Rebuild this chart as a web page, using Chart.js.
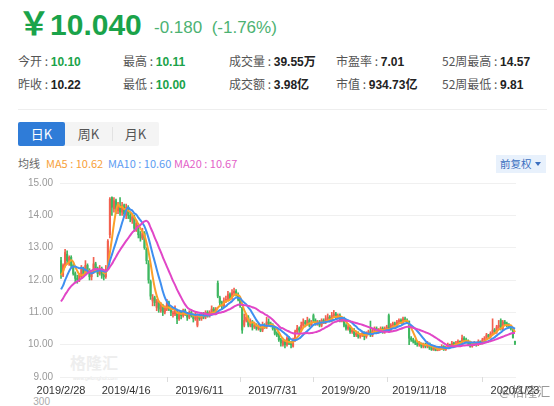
<!DOCTYPE html>
<html lang="zh-CN">
<head>
<meta charset="utf-8">
<title>日K</title>
<script src="https://cdn.jsdelivr.net/npm/chart.js@4.4.1/dist/chart.umd.min.js"></script>
<style>
  html, body { margin: 0; padding: 0; background: #fff; }
  body { width: 554px; height: 406px; position: relative; overflow: hidden;
         font-family: "Noto Sans CJK SC", "Noto Sans", sans-serif; }
  .abs { position: absolute; white-space: nowrap; }
  .price { left: 18px; top: 5px; font-size: 32px; line-height: 32px; font-weight: 700; color: #1aa34a; }
  .price .num { font-family: "Liberation Sans", sans-serif; font-size: 30px; }
  .change { left: 154px; top: 18px; font-size: 17px; line-height: 20px; color: #4cb272; font-family: "Liberation Sans", "Noto Sans CJK SC", sans-serif; }
  .row { font-size: 12px; line-height: 16px; color: #555; }
  .row b { font-weight: 700; color: #222; font-family: "Liberation Sans", "Noto Sans CJK SC", sans-serif; }
  .row b.g { color: #1aa34a; }
  .rule { left: 18px; top: 109px; width: 529px; height: 1px; background: #eee; }
  .tabs { left: 18px; top: 122px; width: 141px; height: 24px; background: #f4f4f4; border-radius: 2px; }
  .tab { top: 122px; width: 47px; height: 24px; line-height: 24px; text-align: center; font-size: 13px; color: #555; }
  .tab.on { background: #2f7cd8; color: #fff; border-radius: 2px; }
  .sep { left: 112px; top: 127px; width: 1px; height: 14px; background: #e2e2e2; }
  .legend { top: 156px; font-size: 11px; line-height: 15px; }
  .fq { left: 496px; top: 155px; width: 50px; height: 18px; background: #e8f1fc; }
  .fq span { position: absolute; left: 4px; top: 0; font-size: 10.5px; line-height: 18px; color: #3b6fc0; }
  .fq i { position: absolute; left: 39px; top: 7px; width: 0; height: 0;
          border-left: 3.5px solid transparent; border-right: 3.5px solid transparent; border-top: 4px solid #3b6fc0; }
  .mark { left: 70px; top: 352px; font-size: 16px; line-height: 20px; font-weight: 700; color: #eeeeee; }
  .site { left: 73px; top: 375px; font-size: 5px; line-height: 6px; color: #e4e4e4; font-family: "Liberation Sans", sans-serif; }
  .volLine { left: 60px; top: 395px; width: 456px; height: 1px; background: #efefef; }
  .volTick { right: 504px; top: 396px; font-size: 10px; line-height: 12px; color: #aaa; font-family: "Liberation Sans", sans-serif; }
  .stamp { left: 499px; top: 383px; font-size: 13px; line-height: 16px; color: rgba(70,70,70,0.55); }
  #wrap { position: absolute; left: 0; top: 170px; width: 554px; height: 236px; }
</style>
</head>
<body>
  <div class="abs price">￥<span class="num">10.040</span></div>
  <div class="abs change">-0.180&nbsp;&nbsp;(-1.76%)</div>

  <div class="abs row" style="left:18px;top:53px">今开 : <b class="g">10.10</b></div>
  <div class="abs row" style="left:123px;top:53px">最高 : <b class="g">10.11</b></div>
  <div class="abs row" style="left:229px;top:53px">成交量 : <b>39.55万</b></div>
  <div class="abs row" style="left:336px;top:53px">市盈率 : <b>7.01</b></div>
  <div class="abs row" style="left:442px;top:53px">52周最高 : <b>14.57</b></div>
  <div class="abs row" style="left:18px;top:76px">昨收 : <b>10.22</b></div>
  <div class="abs row" style="left:123px;top:76px">最低 : <b class="g">10.00</b></div>
  <div class="abs row" style="left:229px;top:76px">成交额 : <b>3.98亿</b></div>
  <div class="abs row" style="left:336px;top:76px">市值 : <b>934.73亿</b></div>
  <div class="abs row" style="left:442px;top:76px">52周最低 : <b>9.81</b></div>
  <div class="abs rule"></div>

  <div class="abs tabs"></div>
  <div class="abs tab on" style="left:18px">日K</div>
  <div class="abs tab" style="left:65px">周K</div>
  <div class="abs sep"></div>
  <div class="abs tab" style="left:112px">月K</div>

  <div class="abs legend" style="left:18px;color:#666">均线</div>
  <div class="abs legend" style="left:46px;color:#f7a13a">MA5 : 10.62</div>
  <div class="abs legend" style="left:108px;color:#5d9cf2">MA10 : 10.60</div>
  <div class="abs legend" style="left:174px;color:#e35fc8">MA20 : 10.67</div>
  <div class="abs fq"><span>前复权</span><i></i></div>

  <div class="abs mark">格隆汇</div>
  <div class="abs site">www.gelonghui.com</div>
  <div class="abs volLine"></div>
  <div class="abs volTick">300</div>

  <div id="wrap"><canvas id="kline" width="554" height="236"></canvas></div>
  <div class="abs stamp">@格隆汇</div>

<script>
// Closes of the trading days just before the first drawn candle (seed the moving averages)
const priorCloses = [10.55, 10.6, 10.7, 10.8, 10.9, 11.0, 11.1, 11.2, 11.3, 11.45,
                     11.3, 11.15, 11.2, 11.3, 11.4, 11.9, 12.0, 12.25, 12.4];

// Daily candles, one entry per trading day
const opens = [
  12.6, 12.15, 12.45, 12.8, 12.55, 12.7, 12.45, 12.2, 12.05, 12.0,
  12.1, 12.35, 12.2, 12.45, 12.3, 12.1, 12.25, 12.5, 12.3, 12.2,
  12.35, 12.15, 12.1, 12.4, 13.4, 14.55, 14.2, 14.45, 14.15, 14.3,
  14.1, 14.3, 14.0, 14.25, 14.0, 13.85, 13.95, 13.6, 13.7, 13.4,
  13.3, 13.45, 12.95, 12.5, 11.95, 11.35, 11.45, 11.15, 11.3, 11.05,
  11.2, 11.0, 11.1, 11.3, 11.1, 10.95, 10.95, 11.05, 10.8, 11.0,
  10.9, 11.05, 10.95, 10.85, 11.0, 10.9, 10.8, 10.6, 10.9, 10.8,
  10.95, 10.85, 11.0, 10.9, 11.0, 11.1, 11.0, 11.9, 11.45, 11.3,
  11.2, 11.35, 11.4, 11.55, 11.45, 11.6, 11.65, 11.55, 11.4, 11.15,
  10.6, 10.75, 10.85, 10.6, 10.7, 10.55, 10.6, 10.5, 10.55, 10.45,
  10.6, 10.55, 10.7, 10.65, 10.6, 10.5, 10.35, 10.3, 10.15, 10.0,
  10.1, 10.0, 10.2, 10.05, 9.95, 10.15, 10.4, 10.5, 10.45, 10.6,
  10.7, 10.65, 10.75, 10.6, 10.9, 10.75, 10.65, 10.7, 10.6, 10.75,
  10.7, 10.8, 10.85, 10.75, 10.9, 10.95, 10.85, 10.9, 10.75, 10.8,
  10.6, 10.5, 10.55, 10.4, 10.45, 10.3, 10.35, 10.25, 10.3, 10.35,
  10.25, 10.35, 10.4, 10.3, 10.45, 10.5, 10.4, 10.45, 10.5, 10.4,
  10.5, 10.9, 10.45, 10.6, 10.65, 10.6, 10.7, 10.75, 10.7, 10.8,
  10.75, 10.73, 10.2, 10.15, 10.1, 10.05, 10.0, 10.05, 9.95, 10.0,
  9.95, 10.05, 9.9, 9.85, 9.9, 9.82, 9.85, 9.9, 9.95, 9.85,
  9.9, 10.0, 9.95, 10.05, 10.0, 10.05, 10.1, 10.05, 10.2, 10.15,
  10.1, 10.05, 9.95, 10.0, 10.05, 10.0, 10.1, 10.05, 10.15, 10.2,
  10.3, 10.25, 10.35, 10.45, 10.4, 10.55, 10.75, 10.5, 10.7, 10.65,
  10.6, 10.55, 10.5, 10.10
];
const highs = [
  12.7, 12.5, 12.95, 12.9, 12.75, 12.75, 12.5, 12.25, 12.15, 12.2,
  12.45, 12.4, 12.6, 12.5, 12.35, 12.3, 12.7, 12.55, 12.4, 12.45,
  12.4, 12.25, 12.45, 13.25, 14.55, 14.57, 14.55, 14.5, 14.4, 14.55,
  14.4, 14.35, 14.35, 14.3, 14.1, 14.05, 14.0, 13.85, 13.75, 13.5,
  13.6, 13.5, 13.0, 12.6, 12.0, 11.55, 11.5, 11.4, 11.35, 11.3,
  11.25, 11.2, 11.4, 11.35, 11.15, 11.05, 11.2, 11.1, 11.05, 11.05,
  11.1, 11.1, 11.0, 11.05, 11.05, 10.95, 11.0, 10.95, 10.95, 11.0,
  11.0, 11.05, 11.05, 11.05, 11.2, 11.15, 11.15, 11.97, 11.5, 11.35,
  11.45, 11.5, 11.65, 11.6, 11.7, 11.75, 11.7, 11.6, 11.45, 11.15,
  10.95, 10.95, 10.9, 10.8, 10.75, 10.7, 10.65, 10.65, 10.6, 10.7,
  10.65, 10.85, 10.8, 10.7, 10.65, 10.55, 10.4, 10.35, 10.2, 10.15,
  10.15, 10.25, 10.25, 10.1, 10.2, 10.45, 10.6, 10.55, 10.7, 10.8,
  10.75, 10.85, 10.8, 10.75, 10.95, 10.8, 10.75, 10.75, 10.8, 10.8,
  10.9, 10.95, 10.9, 11.0, 11.06, 11.0, 10.95, 10.95, 10.85, 10.85,
  10.65, 10.6, 10.6, 10.5, 10.5, 10.4, 10.4, 10.35, 10.4, 10.4,
  10.4, 10.45, 10.73, 10.5, 10.55, 10.55, 10.5, 10.55, 10.55, 10.55,
  10.6, 10.95, 10.65, 10.7, 10.7, 10.75, 10.8, 10.8, 10.85, 10.85,
  10.8, 10.73, 10.25, 10.2, 10.15, 10.1, 10.1, 10.05, 10.05, 10.05,
  10.1, 10.05, 9.95, 9.95, 9.92, 9.9, 9.95, 10.0, 9.97, 9.95,
  10.05, 10.02, 10.1, 10.08, 10.1, 10.15, 10.12, 10.3, 10.25, 10.2,
  10.15, 10.08, 10.05, 10.1, 10.08, 10.15, 10.12, 10.2, 10.25, 10.35,
  10.32, 10.4, 10.8, 10.5, 10.6, 10.75, 10.8, 10.75, 10.75, 10.7,
  10.65, 10.6, 10.52, 10.11
];
const lows = [
  12.05, 12.1, 12.4, 12.5, 12.45, 12.4, 12.15, 11.95, 11.9, 11.95,
  12.05, 12.1, 12.15, 12.2, 12.0, 12.0, 12.2, 12.25, 12.1, 12.15,
  12.05, 12.0, 12.05, 12.35, 13.3, 14.0, 14.1, 14.05, 14.05, 14.0,
  14.0, 13.95, 13.9, 13.9, 13.8, 13.75, 13.5, 13.5, 13.3, 13.2,
  13.25, 12.95, 12.5, 11.9, 11.4, 11.2, 11.2, 11.05, 11.0, 11.0,
  10.9, 10.95, 11.05, 11.05, 10.9, 10.85, 10.9, 10.65, 10.75, 10.8,
  10.85, 10.9, 10.75, 10.8, 10.85, 10.7, 10.75, 10.55, 10.75, 10.75,
  10.8, 10.8, 10.85, 10.85, 10.95, 10.95, 10.95, 11.45, 11.2, 11.1,
  11.15, 11.3, 11.35, 11.4, 11.4, 11.55, 11.5, 11.35, 11.15, 10.35,
  10.55, 10.7, 10.55, 10.55, 10.45, 10.5, 10.45, 10.45, 10.4, 10.4,
  10.5, 10.5, 10.6, 10.55, 10.45, 10.3, 10.25, 10.1, 9.95, 9.95,
  9.9, 9.95, 10.0, 9.9, 9.92, 10.1, 10.35, 10.35, 10.4, 10.55,
  10.55, 10.6, 10.55, 10.55, 10.7, 10.6, 10.6, 10.55, 10.55, 10.65,
  10.65, 10.75, 10.7, 10.7, 10.85, 10.8, 10.8, 10.7, 10.7, 10.55,
  10.45, 10.45, 10.35, 10.35, 10.25, 10.25, 10.2, 10.2, 10.25, 10.15,
  10.2, 10.3, 10.25, 10.25, 10.4, 10.35, 10.35, 10.4, 10.35, 10.35,
  10.45, 10.4, 10.4, 10.55, 10.55, 10.55, 10.65, 10.65, 10.65, 10.7,
  10.65, 10.0, 10.1, 10.05, 10.0, 9.95, 9.95, 9.9, 9.9, 9.9,
  9.9, 9.85, 9.82, 9.82, 9.81, 9.81, 9.82, 9.85, 9.82, 9.82,
  9.88, 9.9, 9.92, 9.95, 9.97, 10.0, 10.0, 10.02, 10.1, 10.05,
  10.0, 9.92, 9.92, 9.97, 9.95, 9.97, 10.0, 10.02, 10.1, 10.15,
  10.2, 10.2, 10.3, 10.35, 10.35, 10.5, 10.45, 10.45, 10.6, 10.55,
  10.5, 10.45, 10.2, 10.00
];
const closes = [
  12.2, 12.45, 12.85, 12.6, 12.7, 12.45, 12.2, 12.05, 12.0, 12.15,
  12.35, 12.2, 12.45, 12.3, 12.1, 12.25, 12.5, 12.3, 12.2, 12.35,
  12.15, 12.1, 12.3, 13.2, 14.5, 14.25, 14.45, 14.2, 14.3, 14.1,
  14.3, 14.05, 14.25, 14.0, 13.9, 13.95, 13.6, 13.75, 13.4, 13.3,
  13.45, 13.0, 12.6, 12.0, 11.5, 11.45, 11.3, 11.35, 11.1, 11.2,
  11.0, 11.15, 11.3, 11.1, 11.0, 10.95, 11.1, 10.8, 11.0, 10.9,
  11.05, 10.95, 10.85, 11.0, 10.9, 10.8, 10.95, 10.9, 10.8, 10.95,
  10.85, 11.0, 10.9, 11.0, 11.1, 11.0, 11.1, 11.5, 11.3, 11.2,
  11.35, 11.4, 11.55, 11.45, 11.6, 11.65, 11.55, 11.4, 11.2, 10.45,
  10.75, 10.85, 10.6, 10.7, 10.55, 10.6, 10.5, 10.55, 10.45, 10.6,
  10.55, 10.7, 10.65, 10.6, 10.5, 10.35, 10.3, 10.15, 10.05, 10.1,
  10.0, 10.2, 10.05, 10.0, 10.15, 10.4, 10.5, 10.45, 10.6, 10.7,
  10.65, 10.75, 10.6, 10.7, 10.75, 10.65, 10.7, 10.6, 10.75, 10.7,
  10.8, 10.85, 10.75, 10.9, 10.95, 10.85, 10.9, 10.75, 10.8, 10.6,
  10.5, 10.55, 10.4, 10.45, 10.3, 10.35, 10.25, 10.3, 10.35, 10.25,
  10.35, 10.4, 10.3, 10.45, 10.5, 10.4, 10.45, 10.5, 10.4, 10.5,
  10.55, 10.45, 10.6, 10.65, 10.6, 10.7, 10.75, 10.7, 10.8, 10.75,
  10.7, 10.2, 10.15, 10.1, 10.05, 10.0, 10.05, 9.95, 10.0, 9.95,
  10.05, 9.9, 9.85, 9.9, 9.82, 9.85, 9.9, 9.95, 9.85, 9.9,
  10.0, 9.95, 10.05, 10.0, 10.05, 10.1, 10.05, 10.2, 10.15, 10.1,
  10.05, 9.95, 10.0, 10.05, 10.0, 10.1, 10.05, 10.15, 10.2, 10.3,
  10.25, 10.35, 10.45, 10.4, 10.55, 10.6, 10.5, 10.7, 10.65, 10.6,
  10.55, 10.5, 10.22, 10.04
];

// Date labels shown under the axis, at their trading-day positions
const tickIndex = [0, 32, 68, 104, 140, 176, 223];
const tickText = ['2019/2/28', '2019/4/16', '2019/6/11', '2019/7/31', '2019/9/20', '2019/11/18', '2020/1/23'];
// Short marks hanging under the axis line
const axisMarkIndex = [52, 88, 124, 160, 207];
// Price gridlines
const priceTicks = [9, 10, 11, 12, 13, 14, 15];

const UP = '#f3604f';
const DOWN = '#3eb760';

const days = closes.map((_, i) => i);

function movingAverage(n) {
  const all = priorCloses.concat(closes);
  const off = priorCloses.length;
  return closes.map((_, i) => {
    let s = 0;
    for (let k = 0; k < n; k++) s += all[off + i - k];
    return s / n;
  });
}

const candleColor = closes.map((c, i) => (c >= opens[i] ? UP : DOWN));
const tickLabel = {};
tickIndex.forEach((idx, k) => { tickLabel[idx] = tickText[k]; });

const axisMarks = {
  id: 'axisMarks',
  afterDraw(chart) {
    const { ctx, chartArea, scales } = chart;
    ctx.save();
    ctx.strokeStyle = '#dcdcdc';
    ctx.lineWidth = 1;
    axisMarkIndex.forEach(idx => {
      const x = Math.round(scales.x.getPixelForValue(idx)) + 0.5;
      ctx.beginPath();
      ctx.moveTo(x, chartArea.bottom);
      ctx.lineTo(x, chartArea.bottom + 5);
      ctx.stroke();
    });
    ctx.restore();
  }
};

new Chart(document.getElementById('kline'), {
  data: {
    labels: days,
    datasets: [
      {
        type: 'line', label: 'MA20', data: movingAverage(20),
        borderColor: '#e146c7', borderWidth: 2, pointRadius: 0, tension: 0.3, order: 1
      },
      {
        type: 'line', label: 'MA10', data: movingAverage(10),
        borderColor: '#3f8ff0', borderWidth: 2, pointRadius: 0, tension: 0.3, order: 2
      },
      {
        type: 'line', label: 'MA5', data: movingAverage(5),
        borderColor: '#fb9f2a', borderWidth: 2, pointRadius: 0, tension: 0.3, order: 3
      },
      {
        type: 'bar', label: 'body', data: opens.map((o, i) => [o, closes[i]]),
        backgroundColor: candleColor, barThickness: 1.4, minBarLength: 1, grouped: false, order: 5
      },
      {
        type: 'bar', label: 'wick', data: lows.map((l, i) => [l, highs[i]]),
        backgroundColor: candleColor, barThickness: 1, grouped: false, order: 6
      }
    ]
  },
  options: {
    responsive: false,
    animation: false,
    devicePixelRatio: 1,
    layout: { padding: { left: 0, right: 38, top: 9, bottom: 0 } },
    plugins: { legend: { display: false }, tooltip: { enabled: false } },
    scales: {
      x: {
        type: 'category',
        offset: true,
        grid: { display: false, drawTicks: false },
        border: { display: false },
        ticks: {
          autoSkip: false, maxRotation: 0, minRotation: 0, padding: 7,
          color: '#333', font: { family: 'Liberation Sans', size: 11 },
          callback: (v, i) => (tickLabel[i] !== undefined ? tickLabel[i] : null)
        },
        afterFit: s => { s.height = 29; }
      },
      y: {
        min: 9, max: 15,
        afterBuildTicks: s => { s.ticks = priceTicks.map(v => ({ value: v })); },
        grid: { color: '#f0f0f0', drawTicks: false },
        border: { display: false },
        ticks: {
          padding: 7, color: '#999', font: { family: 'Liberation Sans', size: 10 },
          callback: v => Number(v).toFixed(2)
        },
        afterFit: s => { s.width = 60; }
      }
    }
  },
  plugins: [axisMarks]
});
</script>
</body>
</html>
